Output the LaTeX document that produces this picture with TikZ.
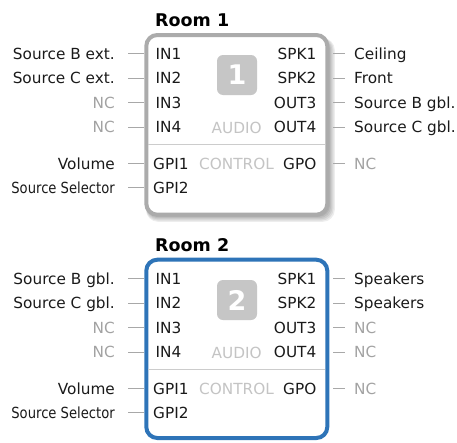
\documentclass[tikz,border=0pt]{standalone}
\usepackage{fontspec}
\setmainfont{DejaVu Sans}
\usetikzlibrary{calc}
\definecolor{txt}{HTML}{1A1A1A}
\definecolor{nctxt}{HTML}{A2A2A2}
\definecolor{sectxt}{HTML}{C4C4C4}
\definecolor{wirecol}{HTML}{A8A8A8}
\definecolor{frameone}{HTML}{ABABAB}
\definecolor{frametwo}{HTML}{2E74B8}
\definecolor{badgecol}{HTML}{C6C6C6}
\definecolor{sepcol}{HTML}{CCCCCC}
\tikzset{
  lab/.style={anchor=base east, inner sep=0pt, text=txt},
  labnc/.style={lab, text=nctxt},
  rlab/.style={anchor=base west, inner sep=0pt, text=txt},
  rlabnc/.style={rlab, text=nctxt},
  lport/.style={anchor=base west, inner sep=0pt, text=txt},
  rport/.style={anchor=base east, inner sep=0pt, text=txt},
  secttl/.style={anchor=base, inner sep=0pt, text=sectxt},
  wire/.style={draw=wirecol, line width=0.9pt},
  sepline/.style={draw=sepcol, line width=1pt},
  roomttl/.style={anchor=base west, inner sep=0pt, text=black, font=\bfseries\fontsize{17.5}{20}\selectfont},
  roombox/.style={line width=4pt, rounded corners=11pt, minimum width=181pt, inner sep=0pt, fill=white},
  badge/.style={fill=badgecol, rounded corners=6pt, minimum size=40pt, inner sep=0pt, text=white, font=\bfseries\fontsize{27}{27}\selectfont},
}
% left pin: name, box, baseline y, style, text
\newcommand\leftpin[5]{%
  \node[#4] (#1) at (115,#3) {#5};
  \draw[wire] ($(#1.base east)+(13pt,5.5pt)$) -- ($(#1.base east -| #2.west)+(0pt,5.5pt)$);}
\newcommand\rightpin[5]{%
  \node[#4] (#1) at (354,#3) {#5};
  \draw[wire] ($(#2.east |- #1.base west)+(4pt,5.5pt)$) -- ($(#1.base west)+(-9pt,5.5pt)$);}
\begin{document}
\begin{tikzpicture}[x=1pt,y=-1pt,font=\fontsize{15.3}{18}\selectfont]
\useasboundingbox (0,0) rectangle (457,442);
% shadow of room 1
\foreach \d in {0,1.2,2.4,3.6,4.8}
  \fill[black, opacity=0.07, rounded corners=12pt] (146,38) rectangle (330+\d,217+\d);
% boxes
\node[roombox, draw=frameone, minimum height=179.7pt] (box1) at (236.8,124.85) {};
\node[roombox, draw=frametwo, minimum height=178.3pt] (box2) at (236.8,348.85) {};
% titles
\node[roomttl] (t1) at (155,26) {Room 1};
\node[roomttl] (t2) at (155,251) {Room 2};
% separators
\draw[sepline] ($(box1.west |- 0,144.8)+(4pt,0pt)$) -- ($(box1.east |- 0,144.8)+(-4pt,0pt)$);
\draw[sepline] ($(box2.west |- 0,369.8)+(4pt,0pt)$) -- ($(box2.east |- 0,369.8)+(-4pt,0pt)$);
% badges
\node[badge] (b1) at (237,75) {1};
\node[badge] (b2) at (237,300) {2};
% section titles
\node[secttl] (au1) at (236.7,133.5) {AUDIO};
\node[secttl] (co1) at (236.5,169) {CONTROL};
\node[secttl] (au2) at (236.7,358.5) {AUDIO};
\node[secttl] (co2) at (236.5,394) {CONTROL};
% inner ports room 1
\node[lport] (a1in1) at (155.5,59) {IN1};
\node[lport] (a1in2) at (155.5,83.5) {IN2};
\node[lport] (a1in3) at (155.5,108) {IN3};
\node[lport] (a1in4) at (155.5,132.5) {IN4};
\node[lport] (a1gp1) at (153,169) {GPI1};
\node[lport] (a1gp2) at (153,193) {GPI2};
\node[rport] (a1sp1) at (316.5,59) {SPK1};
\node[rport] (a1sp2) at (316.5,83.5) {SPK2};
\node[rport] (a1ou3) at (316.5,108) {OUT3};
\node[rport] (a1ou4) at (316.5,132.5) {OUT4};
\node[rport] (a1gpo) at (316.5,169) {GPO};
% inner ports room 2
\node[lport] (a2in1) at (155.5,284) {IN1};
\node[lport] (a2in2) at (155.5,308.5) {IN2};
\node[lport] (a2in3) at (155.5,333) {IN3};
\node[lport] (a2in4) at (155.5,357.5) {IN4};
\node[lport] (a2gp1) at (153,394) {GPI1};
\node[lport] (a2gp2) at (153,418) {GPI2};
\node[rport] (a2sp1) at (316.5,284) {SPK1};
\node[rport] (a2sp2) at (316.5,308.5) {SPK2};
\node[rport] (a2ou3) at (316.5,333) {OUT3};
\node[rport] (a2ou4) at (316.5,357.5) {OUT4};
\node[rport] (a2gpo) at (316.5,394) {GPO};
% outer labels room 1
\leftpin{l1a}{box1}{59}{lab}{Source B ext.}
\leftpin{l1b}{box1}{83.5}{lab}{Source C ext.}
\leftpin{l1c}{box1}{108}{labnc}{NC}
\leftpin{l1d}{box1}{132.5}{labnc}{NC}
\leftpin{l1e}{box1}{169}{lab}{Volume}
\leftpin{l1f}{box1}{193}{lab}{\scalebox{0.86}[1]{Source Selector}}
\rightpin{r1a}{box1}{59}{rlab}{Ceiling}
\rightpin{r1b}{box1}{83.5}{rlab}{Front}
\rightpin{r1c}{box1}{108}{rlab}{Source B gbl.}
\rightpin{r1d}{box1}{132.5}{rlab}{Source C gbl.}
\rightpin{r1e}{box1}{169}{rlabnc}{NC}
% outer labels room 2
\leftpin{l2a}{box2}{284}{lab}{Source B gbl.}
\leftpin{l2b}{box2}{308.5}{lab}{Source C gbl.}
\leftpin{l2c}{box2}{333}{labnc}{NC}
\leftpin{l2d}{box2}{357.5}{labnc}{NC}
\leftpin{l2e}{box2}{394}{lab}{Volume}
\leftpin{l2f}{box2}{418}{lab}{\scalebox{0.86}[1]{Source Selector}}
\rightpin{r2a}{box2}{284}{rlab}{Speakers}
\rightpin{r2b}{box2}{308.5}{rlab}{Speakers}
\rightpin{r2c}{box2}{333}{rlabnc}{NC}
\rightpin{r2d}{box2}{357.5}{rlabnc}{NC}
\rightpin{r2e}{box2}{394}{rlabnc}{NC}
\end{tikzpicture}
\end{document}
